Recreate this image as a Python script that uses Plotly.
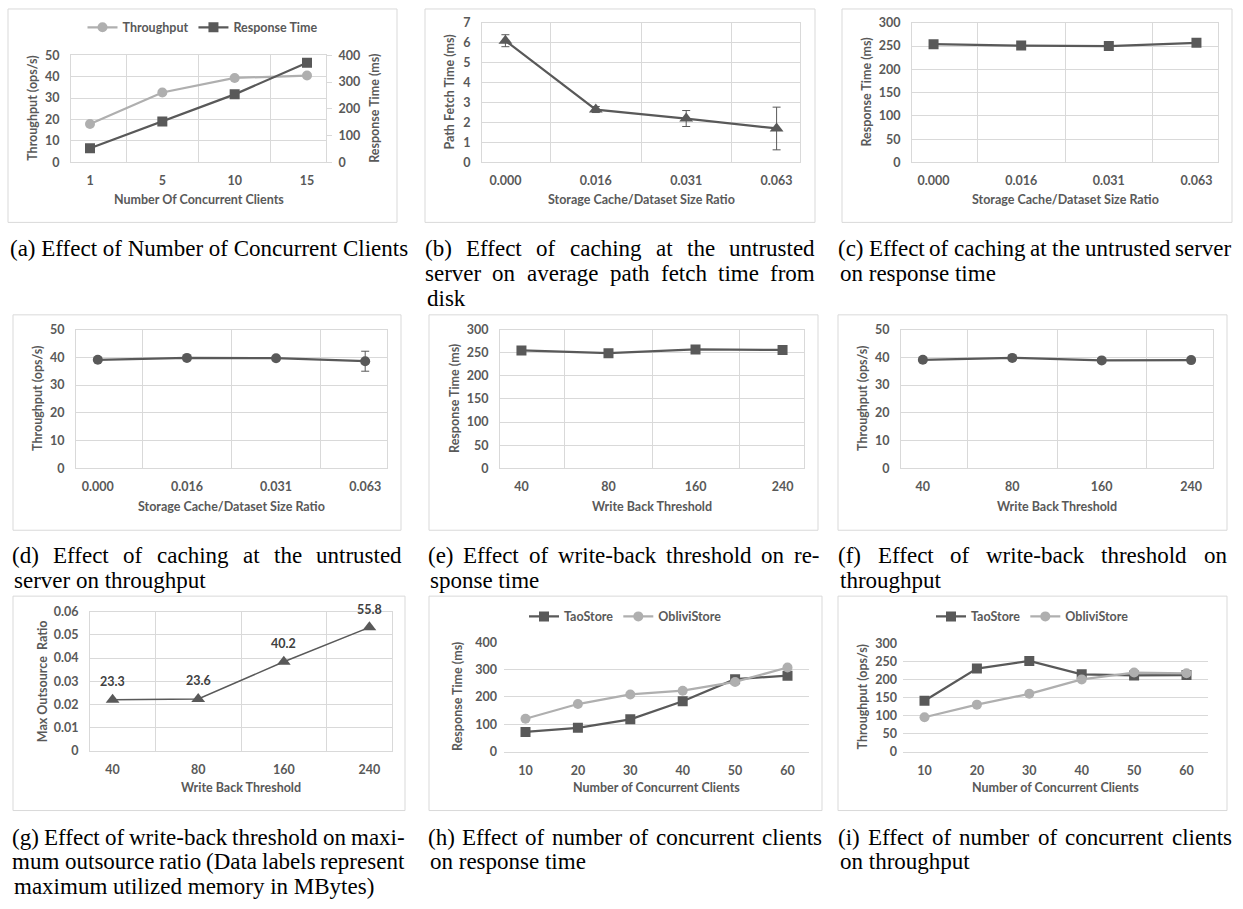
import plotly.graph_objects as go

# ---------------- data ----------------
clients_a = ['1', '5', '10', '15']
thr_a = [17.9, 32.6, 39.4, 40.5]
rt_a = [53, 153, 254, 372]

ratio_cats = ['0.000', '0.016', '0.031', '0.063']
fetch_b = [6.1, 2.65, 2.2, 1.7]
fetch_b_err = [0.3, 0.15, 0.4, 1.07]
rt_c = [254, 251, 250, 257]
rt_c_err = [0, 0, 0, 6]
thr_d = [39.1, 39.8, 39.7, 38.6]
thr_d_err = [0, 0, 0, 3.6]

wb_cats = ['40', '80', '160', '240']
rt_e = [255, 249, 257, 256]
thr_f = [39.1, 39.8, 38.9, 39.0]
ratio_g = [0.022, 0.0223, 0.0384, 0.0533]
mem_g = ['23.3', '23.6', '40.2', '55.8']

clients_h = ['10', '20', '30', '40', '50', '60']
tao_rt = [72, 87, 118, 184, 265, 278]
obl_rt = [120, 174, 209, 223, 255, 308]
tao_thr = [141, 230, 251, 214, 211, 212]
obl_thr = [95, 130, 160, 200, 219, 217]

captions = [
    (8, 402, 245, ["(a) Effect of Number of Concurrent Clients"]),
    (425, 815, 245, ["(b) Effect of caching at the untrusted",
                     "server on average path fetch time from", "disk"]),
    (838, 1232, 245, ["(c) Effect of caching at the untrusted server",
                      "on response time"]),
    (12, 402, 557, ["(d) Effect of caching at the untrusted",
                    "server on throughput"]),
    (428, 820, 557, ["(e) Effect of write-back threshold on re-",
                     "sponse time"]),
    (838, 1227, 557, ["(f) Effect of write-back threshold on",
                      "throughput"]),
    (12, 405, 843, ["(g) Effect of write-back threshold on maxi-",
                    "mum outsource ratio (Data labels represent",
                    "maximum utilized memory in MBytes)"]),
    (428, 822, 843, ["(h) Effect of number of concurrent clients",
                     "on response time"]),
    (838, 1232, 843, ["(i) Effect of number of concurrent clients",
                      "on throughput"]),
]

# ---------------- style ----------------
W, H = 1243, 909
DARK = '#595959'
LIGHT = '#AFAFAF'
GRID = '#D9D9D9'
TXT = '#595959'
FONT = 'Lato'
FS = 12.5
TF = dict(family=FONT, size=FS, color=TXT, weight='bold')


def fx(px):
    return px / W


def fy(py):
    return 1 - py / H


# plot areas (pixels): x0, x1, y0(top), y1(bottom)
P = {
    'a': (71, 326, 48, 157),
    'b': (482, 800, 15, 157),
    'c': (912, 1218, 15, 157),
    'd': (76, 387, 327, 468),
    'e': (500, 804, 327, 468),
    'f': (901, 1213, 327, 468),
    'g': (90, 392, 614, 755),
    'h': (504, 809, 645, 756),
    'i': (903, 1208, 646, 756),
}
BOX = {
    'a': (8, 397, 1, 218), 'b': (425, 815, 1, 218), 'c': (842, 1232, 1, 218),
    'd': (13, 401, 312, 531), 'e': (429, 818, 312, 531), 'f': (838, 1227, 312, 531),
    'g': (13, 405, 598, 816), 'h': (429, 822, 598, 816), 'i': (838, 1227, 598, 816),
}
keys = ['a', 'b', 'c', 'd', 'e', 'f', 'g', 'h', 'i']
AX = {k: str(i + 1) for i, k in enumerate(keys)}
YSTAND = {'h': 6, 'i': 5}

fig = go.Figure()
layout = dict(width=W, height=H, margin=dict(l=0, r=0, t=0, b=0),
              paper_bgcolor='white', plot_bgcolor='white',
              font=dict(family=FONT, size=FS, color=TXT, weight='bold'),
              showlegend=True)


def xaxis(k, cats, grid=True):
    x0, x1, y0, y1 = P[k]
    return dict(domain=[fx(x0), fx(x1)], anchor='y' + AX[k], type='category',
                categoryorder='array', categoryarray=cats,
                tickson='boundaries' if grid else 'labels',
                showgrid=grid, gridcolor=GRID, gridwidth=1,
                showline=True, linecolor=GRID, linewidth=1, mirror=grid,
                ticks='', tickfont=TF, ticklabelstandoff=7, zeroline=False)


def yaxis(k, rng, dtick, grid_box=True):
    x0, x1, y0, y1 = P[k]
    return dict(domain=[fy(y1), fy(y0)], anchor='x' + AX[k], range=rng, dtick=dtick,
                showgrid=True, gridcolor=GRID, gridwidth=1,
                showline=grid_box, linecolor=GRID, linewidth=1, mirror=grid_box,
                ticks='', tickfont=TF, ticklabelstandoff=YSTAND.get(k, 8), zeroline=False)


sfx = lambda k: '' if AX[k] == '1' else AX[k]

cats = {'a': clients_a, 'b': ratio_cats, 'c': ratio_cats, 'd': ratio_cats,
        'e': wb_cats, 'f': wb_cats, 'g': wb_cats, 'h': clients_h, 'i': clients_h}
yr = {'a': ([0, 50], 10), 'b': ([0, 7], 1), 'c': ([0, 300], 50), 'd': ([0, 50], 10),
      'e': ([0, 300], 50), 'f': ([0, 50], 10), 'g': ([0, 0.06], 0.01),
      'h': ([0, 400], 100), 'i': ([0, 300], 50)}
for k in keys:
    grid = k not in ('h', 'i')
    layout['xaxis' + sfx(k)] = xaxis(k, cats[k], grid)
    layout['yaxis' + sfx(k)] = yaxis(k, yr[k][0], yr[k][1], grid)

# secondary axis for (a)
x0, x1, y0, y1 = P['a']
layout['yaxis10'] = dict(domain=[fy(y1), fy(y0)], anchor='x', overlaying='y', side='right',
                         range=[0, 400], dtick=100, showgrid=False, zeroline=False,
                         showline=True, linecolor=GRID, ticks='outside', ticklen=5,
                         tickcolor=GRID, tickfont=TF, ticklabelstandoff=4)

LW = 2.25


def line_trace(k, x, y, color, symbol, size, name=None, legend=None, yaxis=None,
               err=None, lw=LW):
    t = go.Scatter(x=x, y=y, mode='lines+markers', name=name or '',
                   xaxis='x' + AX[k], yaxis=yaxis or ('y' + AX[k]),
                   line=dict(color=color, width=lw),
                   marker=dict(symbol=symbol, size=size, color=color),
                   showlegend=legend is not None, legend=legend or 'legend',
                   hoverinfo='x+y')
    if err is not None:
        t.error_y = dict(type='data', array=err, visible=True, color=DARK,
                         thickness=1, width=4)
    return t


fig.add_trace(line_trace('a', clients_a, thr_a, LIGHT, 'circle', 10, 'Throughput', 'legend'))
fig.add_trace(line_trace('a', clients_a, rt_a, DARK, 'square', 10, 'Response Time', 'legend',
                         yaxis='y10'))
fig.add_trace(line_trace('b', ratio_cats, fetch_b, DARK, 'triangle-up', 12, err=fetch_b_err))
fig.add_trace(line_trace('c', ratio_cats, rt_c, DARK, 'square', 10, err=rt_c_err))
fig.add_trace(line_trace('d', ratio_cats, thr_d, DARK, 'circle', 10, err=thr_d_err))
fig.add_trace(line_trace('e', wb_cats, rt_e, DARK, 'square', 10))
fig.add_trace(line_trace('f', wb_cats, thr_f, DARK, 'circle', 10))
fig.add_trace(line_trace('g', wb_cats, ratio_g, DARK, 'triangle-up', 12, lw=1.5))
fig.add_trace(line_trace('h', clients_h, tao_rt, DARK, 'square', 10, 'TaoStore', 'legend2'))
fig.add_trace(line_trace('h', clients_h, obl_rt, LIGHT, 'circle', 10, 'ObliviStore', 'legend2'))
fig.add_trace(line_trace('i', clients_h, tao_thr, DARK, 'square', 10, 'TaoStore', 'legend3'))
fig.add_trace(line_trace('i', clients_h, obl_thr, LIGHT, 'circle', 10, 'ObliviStore', 'legend3'))

LEGF = dict(family=FONT, size=FS, color=TXT, weight='bold')


def legend_at(k, py):
    bx0, bx1, _, _ = BOX[k]
    return dict(x=fx((bx0 + bx1) / 2), y=fy(py), xanchor='center', yanchor='middle',
                orientation='h', font=LEGF, bgcolor='rgba(0,0,0,0)', itemwidth=30,
                tracegroupgap=0, itemclick=False, itemdoubleclick=False)


layout['legend'] = legend_at('a', 20)
layout['legend2'] = legend_at('h', 619)
layout['legend3'] = legend_at('i', 619)

annotations = []
shapes = []

# chart-area boxes
for k in keys:
    bx0, bx1, by0, by1 = BOX[k]
    shapes.append(dict(type='rect', xref='paper', yref='paper', x0=fx(bx0), x1=fx(bx1),
                       y0=fy(by1), y1=fy(by0), line=dict(color=GRID, width=1),
                       fillcolor='rgba(0,0,0,0)', layer='below'))

# axis titles
xtitles = {'a': 'Number Of Concurrent Clients', 'b': 'Storage Cache/Dataset Size Ratio',
           'c': 'Storage Cache/Dataset Size Ratio', 'd': 'Storage Cache/Dataset Size Ratio',
           'e': 'Write Back Threshold', 'f': 'Write Back Threshold', 'g': 'Write Back Threshold',
           'h': 'Number of Concurrent Clients', 'i': 'Number of Concurrent Clients'}
xt_y = {'a': 195, 'b': 195, 'c': 195, 'd': 507, 'e': 507, 'f': 507, 'g': 793, 'h': 793, 'i': 793}
ytitles = {'a': 'Throughput (ops/s)', 'b': 'Path Fetch Time (ms)', 'c': 'Response Time (ms)',
           'd': 'Throughput (ops/s)', 'e': 'Response Time (ms)', 'f': 'Throughput (ops/s)',
           'g': 'Max Outsource  Ratio', 'h': 'Response Time (ms)', 'i': 'Throughput (ops/s)'}
yt_x = {'a': 33, 'b': 450, 'c': 867, 'd': 38, 'e': 455, 'f': 863, 'g': 42, 'h': 458, 'i': 862}
TITF = dict(family=FONT, size=FS, color=TXT, weight='bold')
for k in keys:
    x0, x1, y0, y1 = P[k]
    annotations.append(dict(text=xtitles[k], xref='paper', yref='paper', x=fx((x0 + x1) / 2),
                            y=fy(xt_y[k]), xanchor='center', yanchor='middle',
                            showarrow=False, font=TITF))
    annotations.append(dict(text=ytitles[k], xref='paper', yref='paper', x=fx(yt_x[k]),
                            y=fy((y0 + y1) / 2), xanchor='center', yanchor='middle',
                            textangle=-90, showarrow=False, font=TITF))
x0, x1, y0, y1 = P['a']
annotations.append(dict(text='Response Time (ms)', xref='paper', yref='paper', x=fx(375),
                        y=fy((y0 + y1) / 2), xanchor='center', yanchor='middle',
                        textangle=-90, showarrow=False, font=TITF))

# data labels in (g): category axis positions are category serial numbers
for i, (v, lab) in enumerate(zip(ratio_g, mem_g)):
    annotations.append(dict(text=lab, xref='x7', yref='y7', x=i, y=v, yshift=18,
                            showarrow=False, font=dict(family=FONT, size=FS, color='#404040',
                                                       weight='bold')))

# captions (justified like the paper's two-column text)
TIMES = {' ': 250, '(': 333, ')': 333, '-': 333, '.': 250, ',': 250, '/': 278,
         'a': 444, 'b': 500, 'c': 444, 'd': 500, 'e': 444, 'f': 333, 'g': 500, 'h': 500,
         'i': 278, 'j': 278, 'k': 500, 'l': 278, 'm': 778, 'n': 500, 'o': 500, 'p': 500,
         'q': 500, 'r': 333, 's': 389, 't': 278, 'u': 500, 'v': 500, 'w': 722, 'x': 500,
         'y': 500, 'z': 444, 'A': 722, 'B': 667, 'C': 667, 'D': 722, 'E': 611, 'F': 556,
         'G': 722, 'H': 722, 'I': 333, 'M': 889, 'N': 722, 'O': 722, 'R': 667, 'S': 556,
         'T': 611}
CAPS = 23
CAPF = dict(family='Liberation Serif', size=CAPS, color='black', weight='normal')


def tw(s):
    return sum(TIMES.get(ch, 500) for ch in s) / 1000 * CAPS


LINE = 25
for L, R, ytop, lines in captions:
    for li, text in enumerate(lines):
        py = ytop + li * LINE
        last = li == len(lines) - 1
        if last:
            annotations.append(dict(text=text, xref='paper', yref='paper', x=fx(L), y=fy(py),
                                    xanchor='left', yanchor='middle', showarrow=False,
                                    font=CAPF))
        else:
            words = text.split(' ')
            ws = [tw(w) for w in words]
            gap = (R - L - sum(ws)) / (len(words) - 1)
            pos = L
            for w, wd in zip(words, ws):
                annotations.append(dict(text=w, xref='paper', yref='paper',
                                        x=fx(pos + wd / 2), y=fy(py), xanchor='center',
                                        yanchor='middle', showarrow=False, font=CAPF))
                pos += wd + gap

layout['annotations'] = annotations
layout['shapes'] = shapes
fig.update_layout(**layout)
fig.write_html('out.html', config={'displayModeBar': False},
               post_script="document.body.style.margin='0';document.body.style.overflow='hidden';")
